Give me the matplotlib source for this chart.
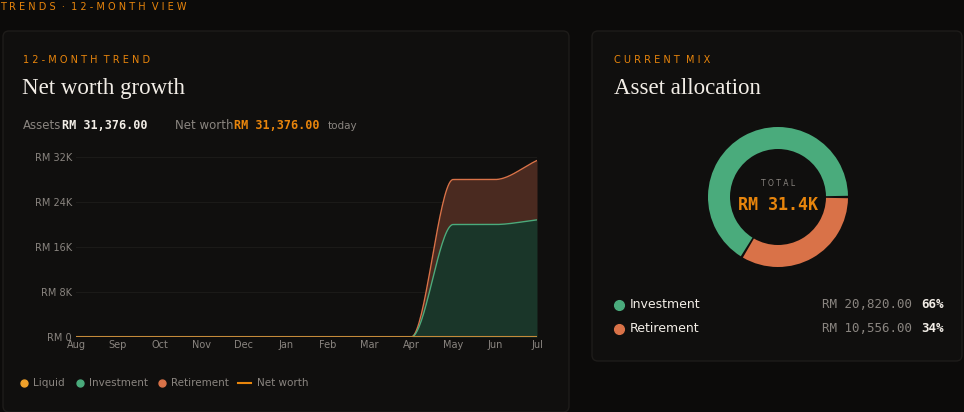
import numpy as np
import matplotlib
matplotlib.use("Agg")
import matplotlib.pyplot as plt
from matplotlib.patches import FancyBboxPatch, Wedge

# --- Data ---
months = ["Aug", "Sep", "Oct", "Nov", "Dec", "Jan", "Feb", "Mar", "Apr", "May", "Jun", "Jul"]
liquid = [0, 0, 0, 0, 0, 0, 0, 0, 0, 0, 0, 0]
investment = [0, 0, 0, 0, 0, 0, 0, 0, 0, 20000, 20000, 20820]
retirement = [0, 0, 0, 0, 0, 0, 0, 0, 0, 8000, 8000, 10556]
yticks = [0, 8000, 16000, 24000, 32000]
ytick_labels = ["RM 0", "RM 8K", "RM 16K", "RM 24K", "RM 32K"]
mix_labels = ["Investment", "Retirement"]
mix_values = [20820.00, 10556.00]

BG = "#0c0b0a"
PANEL = "#100f0e"
EDGE = "#1e1c1a"
ORANGE = "#e8850c"
GREEN = "#4aab7c"
RUST = "#d97248"
GREY = "#8a8580"
WHITE = "#f2ede6"
SERIF = "Liberation Serif"
MONO = "DejaVu Sans Mono"

W, H = 964, 412
fig = plt.figure(figsize=(W / 100, H / 100), dpi=100, facecolor=BG)
bg = fig.add_axes([0, 0, 1, 1])
bg.set_xlim(0, W)
bg.set_ylim(H, 0)
bg.axis("off")

for x0, y0, x1, y1 in [(3, 31, 569, 412), (592, 31, 962, 361)]:
    bg.add_patch(FancyBboxPatch((x0, y0), x1 - x0, y1 - y0, boxstyle="round,pad=0,rounding_size=6",
                                fc=PANEL, ec=EDGE, lw=1))

def txt(x, y, s, **kw):
    bg.text(x, y, s, va="center", **kw)

def spaced(s):
    return "\u2009".join(s) if False else " ".join(s).replace("   ", "  ")

txt(0, 7, "T R E N D S  ·  1 2 - M O N T H  V I E W", color=ORANGE, fontsize=7)
txt(23, 60, "1 2 - M O N T H  T R E N D", color=ORANGE, fontsize=7)
txt(22, 88, "Net worth growth", color=WHITE, fontsize=16.5, family=SERIF)
txt(23, 125, "Assets", color=GREY, fontsize=8.5)
txt(62, 125, "RM 31,376.00", color=WHITE, fontsize=8.5, family=MONO, weight="bold")
txt(175, 125, "Net worth", color=GREY, fontsize=8.5)
txt(234, 125, "RM 31,376.00", color=ORANGE, fontsize=8.5, family=MONO, weight="bold")
txt(328, 126, "today", color=GREY, fontsize=7.5)

txt(614, 60, "C U R R E N T  M I X", color=ORANGE, fontsize=7)
txt(614, 88, "Asset allocation", color=WHITE, fontsize=16.5, family=SERIF)

# --- Trend chart ---
def smooth(xs, ys, n=400):
    # monotone cubic (Fritsch-Carlson) for drawing only
    xs = np.asarray(xs, float); ys = np.asarray(ys, float)
    h = np.diff(xs); d = np.diff(ys) / h
    m = np.zeros_like(ys)
    m[1:-1] = np.where(d[:-1] * d[1:] > 0, 2 / (1 / np.where(d[:-1] == 0, 1, d[:-1]) + 1 / np.where(d[1:] == 0, 1, d[1:])), 0)
    m[0], m[-1] = d[0], d[-1]
    xx = np.linspace(xs[0], xs[-1], n)
    i = np.clip(np.searchsorted(xs, xx) - 1, 0, len(h) - 1)
    t = (xx - xs[i]) / h[i]
    h00 = 2 * t**3 - 3 * t**2 + 1; h10 = t**3 - 2 * t**2 + t
    h01 = -2 * t**3 + 3 * t**2; h11 = t**3 - t**2
    yy = h00 * ys[i] + h10 * h[i] * m[i] + h01 * ys[i + 1] + h11 * h[i] * m[i + 1]
    return xx, yy

x = np.arange(len(months))
liq = np.array(liquid, float)
inv_top = liq + np.array(investment)
ret_top = inv_top + np.array(retirement)
xx, s_liq = smooth(x, liq)
_, s_inv = smooth(x, inv_top)
_, s_ret = smooth(x, ret_top)

ax = fig.add_axes([76 / W, 1 - 337 / H, (537 - 76) / W, (337 - 157) / H])
ax.set_facecolor(PANEL)
ax.set_axisbelow(True)
ax.fill_between(xx, s_inv, s_ret, color="#4a2a20", lw=0, zorder=2)
ax.fill_between(xx, s_liq, s_inv, color="#1a3629", lw=0, zorder=2)
ax.plot(xx, s_ret, color=RUST, lw=1, zorder=3)
ax.plot(xx, s_inv, color=GREEN, lw=1, zorder=3)
ax.plot(x, liq, color="#c58a3a", lw=1.5, zorder=3)
ax.set_xlim(0, len(months) - 1)
ax.set_ylim(0, 32000)
ax.set_xticks(x, months)
ax.set_yticks(yticks, ytick_labels)
ax.tick_params(colors=GREY, labelsize=7, length=0, pad=3)
ax.tick_params(axis="x", pad=2)
ax.grid(axis="y", color="#1b1a18", lw=0.8, zorder=0)
for s in ax.spines.values():
    s.set_visible(False)

legend_items = [("Liquid", "#f0a12a", "dot"), ("Investment", GREEN, "dot"),
                ("Retirement", RUST, "dot"), ("Net worth", ORANGE, "line")]
lx = [24, 80, 162, 238]
for (name, c, kind), px in zip(legend_items, lx):
    if kind == "dot":
        bg.plot(px, 383, "o", color=c, ms=5)
        txt(px + 9, 383, name, color=GREY, fontsize=7.5)
    else:
        bg.plot([px, px + 13], [383, 383], color=c, lw=1.5)
        txt(px + 19, 383, name, color=GREY, fontsize=7.5)

# --- Donut ---
cx, cy, r_out, r_in = 778, 197, 70, 48
total = sum(mix_values)
start = 0.0
for v, c in zip(mix_values, [GREEN, RUST]):
    ang = 360 * v / total
    # y axis inverted: negative angles run counter-clockwise on screen
    bg.add_patch(Wedge((cx, cy), r_out, -(start + ang) + 1, -start - 1, width=r_out - r_in,
                       fc=c, ec="none"))
    start += ang
txt(cx, 183, "T O T A L", color=GREY, fontsize=5.5, ha="center")
txt(cx, 205, "RM 31.4K", color=ORANGE, fontsize=12, family=MONO, weight="bold", ha="center")

for i, (name, v, c) in enumerate(zip(mix_labels, mix_values, [GREEN, RUST])):
    yy = 305 + 24 * i
    bg.plot(619, yy, "o", color=c, ms=7)
    txt(630, yy, name, color=WHITE, fontsize=9)
    txt(912, yy, f"RM {v:,.2f}", color=GREY, fontsize=9, family=MONO, ha="right")
    txt(944, yy, f"{round(100 * v / total)}%", color=WHITE, fontsize=9, family=MONO,
        weight="bold", ha="right")

fig.savefig("out.png", dpi=100, facecolor=BG)
